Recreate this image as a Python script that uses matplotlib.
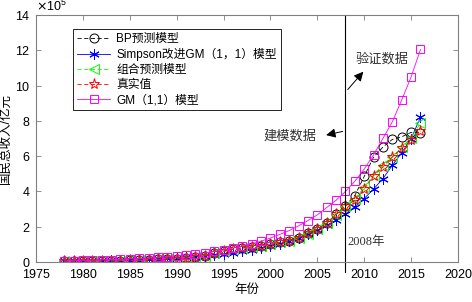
import numpy as np
import matplotlib
matplotlib.use('Agg')
import matplotlib.pyplot as plt
from matplotlib.ticker import ScalarFormatter

plt.rcParams['font.family'] = ['Liberation Sans', 'Noto Sans CJK SC', 'DejaVu Sans']
plt.rcParams['axes.unicode_minus'] = False

years = list(range(1978, 2017))

# 真实值 (亿元 / 1e5)
real = [0.0368, 0.0410, 0.0459, 0.0494, 0.0537, 0.0602, 0.0728, 0.0910, 0.1038, 0.1217,
        0.1518, 0.1718, 0.1887, 0.2201, 0.2719, 0.3567, 0.4864, 0.6134, 0.7181, 0.7972,
        0.8520, 0.9056, 1.0028, 1.1086, 1.2172, 1.3742, 1.6184, 1.8732, 2.1944, 2.7023,
        3.1952, 3.4908, 4.1303, 4.8930, 5.4037, 5.9524, 6.4397, 6.8905, 7.4359]

# BP预测模型
bp = [0.0370, 0.0412, 0.0462, 0.0497, 0.0540, 0.0605, 0.0730, 0.0915, 0.1040, 0.1220,
      0.1520, 0.1720, 0.1890, 0.2205, 0.2720, 0.3570, 0.4860, 0.6130, 0.7180, 0.7970,
      0.8520, 0.9060, 1.0030, 1.1090, 1.2170, 1.3740, 1.6180, 1.8730, 2.1950, 2.7020,
      3.2000, 3.7700, 4.8500, 5.9500, 6.5200, 6.9500, 7.1000, 7.3500, 7.3200]

# Simpson改进GM(1,1)模型
simpson = [0.0445, 0.0511, 0.0586, 0.0672, 0.0771, 0.0884, 0.101, 0.116, 0.134, 0.153,
           0.176, 0.202, 0.231, 0.265, 0.304, 0.349, 0.400, 0.459, 0.527, 0.604,
           0.693, 0.795, 0.910, 1.045, 1.200, 1.375, 1.580, 1.810, 2.075, 2.380,
           2.730, 3.140, 3.600, 4.140, 4.730, 5.480, 6.200, 7.000, 8.200]

# 组合预测模型
combo = [0.0372, 0.0415, 0.0465, 0.0500, 0.0545, 0.0610, 0.0735, 0.0920, 0.1050, 0.1230,
         0.1530, 0.1730, 0.1900, 0.2210, 0.2730, 0.3570, 0.4850, 0.6100, 0.7150, 0.7950,
         0.8500, 0.9050, 1.0020, 1.1080, 1.2160, 1.3730, 1.6150, 1.8700, 2.1900, 2.6900,
         3.1800, 3.5500, 4.2400, 4.9400, 5.5100, 5.9500, 6.5000, 7.0300, 7.8800]

# GM(1,1)模型
gm = [0.066, 0.076, 0.087, 0.100, 0.115, 0.132, 0.151, 0.173, 0.199, 0.228,
      0.262, 0.300, 0.345, 0.395, 0.453, 0.520, 0.596, 0.684, 0.785, 0.900,
      1.030, 1.180, 1.360, 1.560, 1.780, 2.050, 2.350, 2.670, 3.090, 3.500,
      4.000, 4.580, 5.270, 6.080, 7.010, 7.950, 9.190, 10.490, 12.050]

scale = 1e5
dash = (5, 3)

fig = plt.figure(figsize=(4.72, 3.02), dpi=100)
ax = fig.add_axes([0.0763, 0.1325, 0.8940, 0.8175])

ax.plot(years, np.array(bp) * scale, c='k', ls='--', dashes=dash, marker='o', ms=6.5, mfc='none',
        lw=0.6, mew=0.7, label='BP预测模型')
ax.plot(years, np.array(simpson) * scale, c='b', ls='-', marker=(6, 2, 0), ms=7.5,
        lw=0.6, mew=0.7, label='Simpson改进GM（1，1）模型')
ax.plot(years, np.array(combo) * scale, c='#00ff00', ls='--', dashes=dash, marker='<', ms=6.5,
        mfc='none', lw=0.6, mew=0.7, label='组合预测模型')
ax.plot(years, np.array(real) * scale, c='r', ls='--', dashes=dash, marker='*', ms=8, mfc='none',
        lw=0.6, mew=0.7, label='真实值')
ax.plot(years, np.array(gm) * scale, c='#ff00ff', ls='-', marker='s', ms=6, mfc='none',
        lw=0.6, mew=0.7, label='GM（1,1）模型')

# 2008 dividing line
ax.plot([2008, 2008], [-0.55e5, 14e5], c='k', lw=0.8, clip_on=False)
ax.text(2008.2, 1.15e5, '2008年', fontsize=9, ha='left', va='center',
        family=['Liberation Serif', 'Noto Sans CJK SC'], color='#333333')

ax.annotate('', xy=(2010.1, 10.91e5), xytext=(2008.05, 9.66e5),
            arrowprops=dict(arrowstyle='-|>', color='k', lw=0.7, mutation_scale=14))
ax.text(2011.9, 11.5e5, '验证数据', fontsize=9.5, ha='center', va='center', color='#333333')
ax.annotate('', xy=(2005.65, 7.16e5), xytext=(2008.0, 7.44e5),
            arrowprops=dict(arrowstyle='-|>', color='k', lw=0.7, mutation_scale=14))
ax.text(2004.9, 7.1e5, '建模数据', fontsize=9.5, ha='right', va='center', color='#333333')

ax.set_xlim(1975, 2020)
ax.set_ylim(0, 14e5)
ax.set_xticks(range(1975, 2021, 5))
ax.set_yticks(np.arange(0, 14.1e5, 2e5))
fmt = ScalarFormatter(useMathText=True)
fmt.set_powerlimits((5, 5))
ax.yaxis.set_major_formatter(fmt)
ax.yaxis.get_offset_text().set_fontsize(9)

for s in ax.spines.values():
    s.set_color('#808080')
    s.set_linewidth(0.8)
ax.tick_params(direction='in', top=True, right=True, length=3.5, width=0.6,
               color='#808080', labelsize=9)
ax.tick_params(axis='x', pad=5)
ax.tick_params(axis='y', pad=4)

ax.set_xlabel('年份', fontsize=9, labelpad=2)
ax.set_ylabel('国民总收入/亿元', fontsize=9, labelpad=2)

leg = ax.legend(loc='upper left', bbox_to_anchor=(0.088, 0.943), borderaxespad=0,
                fontsize=8.5, handlelength=2.8, fancybox=False, edgecolor='k',
                framealpha=1, labelspacing=0.25, borderpad=0.35, handletextpad=0.5)
leg.get_frame().set_linewidth(0.6)

fig.savefig('out.png', dpi=100)
